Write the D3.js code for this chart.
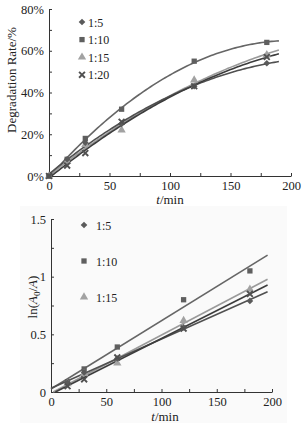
<!DOCTYPE html>
<html><head><meta charset="utf-8">
<script src="https://cdn.jsdelivr.net/npm/d3@7"></script>
<style>body{margin:0;background:#fff}svg{display:block}text{font-family:"Liberation Serif",serif;fill:#222}</style>
</head><body><svg id="c" width="304" height="426" font-family="Liberation Serif"></svg>
<script>
const seriesNames = ["1:5","1:10","1:15","1:20"];
const times = [0,15,30,60,120,180];
const rate_1_5  = [0,0.08,0.16,0.25,0.43,0.54];
const rate_1_10 = [0,0.08,0.18,0.32,0.55,0.64];
const rate_1_15 = [0,0.07,0.15,0.22,0.46,0.58];
const rate_1_20 = [0,0.05,0.11,0.26,0.43,0.57];
const kTimes = [15,30,60,120,180];
const ln_1_5  = [0.08,0.17,0.29,0.56,0.79];
const ln_1_10 = [0.09,0.20,0.39,0.80,1.05];
const ln_1_15 = [0.07,0.16,0.25,0.62,0.89];
const ln_1_20 = [0.05,0.11,0.30,0.55,0.85];
const xTicks = [0,50,100,150,200];
const yTicksTop = [0,0.2,0.4,0.6,0.8];
const yTicksBot = [0,0.5,1,1.5];

const markerColors = ["#5a5a5a","#5f5f5f","#a2a2a2","#505050"];
const lineColors = ["#505050","#666666","#9a9a9a","#3c3c3c"];

const svg = d3.select("#c");

function solve3(A,b){
  const M=A.map((r,i)=>[...r,b[i]]);const n=3;
  for(let i=0;i<n;i++){let p=i;for(let k=i+1;k<n;k++)if(Math.abs(M[k][i])>Math.abs(M[p][i]))p=k;[M[i],M[p]]=[M[p],M[i]];
    for(let k=i+1;k<n;k++){const f=M[k][i]/M[i][i];for(let j=i;j<=n;j++)M[k][j]-=f*M[i][j];}}
  const x=new Array(n);for(let i=n-1;i>=0;i--){let s=M[i][n];for(let j=i+1;j<n;j++)s-=M[i][j]*x[j];x[i]=s/M[i][i];}return x;}
function quadFit(xs,ys){const S=k=>d3.sum(xs,x=>Math.pow(x,k));const T=k=>d3.sum(xs,(x,i)=>Math.pow(x,k)*ys[i]);
  return solve3([[S(0),S(1),S(2)],[S(1),S(2),S(3)],[S(2),S(3),S(4)]],[T(0),T(1),T(2)]);}
function linFit(xs,ys){const mx=d3.mean(xs),my=d3.mean(ys);let sxy=0,sxx=0;xs.forEach((x,i)=>{sxy+=(x-mx)*(ys[i]-my);sxx+=(x-mx)*(x-mx);});const m=sxy/sxx;return [my-m*mx,m];}

function drawSym(g,i,x,y){
  let p;
  if(i===0) p=g.append("path").attr("d",d3.symbol().type(d3.symbolSquare).size(22)()).attr("transform",`translate(${x},${y}) rotate(45)`).attr("fill",markerColors[i]);
  else if(i===1) p=g.append("path").attr("d",d3.symbol().type(d3.symbolSquare).size(28)()).attr("transform",`translate(${x},${y})`).attr("fill",markerColors[i]);
  else if(i===2) p=g.append("path").attr("d",d3.symbol().type(d3.symbolTriangle).size(30)()).attr("transform",`translate(${x},${y})`).attr("fill",markerColors[i]);
  else p=g.append("path").attr("d",d3.symbol().type(d3.symbolX).size(24)()).attr("transform",`translate(${x},${y})`).attr("fill","none").attr("stroke",markerColors[i]).attr("stroke-width",1.9);
}

function axes(g,x,y,yTicks,yFmt,yMinor){
  const ax = d3.axisBottom(x).tickValues(d3.range(0,201,25)).tickSize(-3).tickSizeOuter(0).tickFormat(d=>xTicks.includes(d)?d:"");
  const ga = g.append("g").attr("transform",`translate(0,${y(0)})`).call(ax);
  const ay = d3.axisLeft(y).tickValues(yMinor).tickSize(-3).tickSizeOuter(0).tickFormat(d=>yTicks.some(t=>Math.abs(t-d)<1e-9)?yFmt(d):"");
  const gy = g.append("g").attr("transform",`translate(${x(0)},0)`).call(ay);
  [ga,gy].forEach(a=>{a.attr("font-family","Liberation Serif").attr("font-size",12.5);
    a.selectAll("path,line").attr("stroke","#333").attr("stroke-width",1);
    a.selectAll("text").attr("fill","#222");});
  ga.selectAll("text").attr("dy","0.85em").attr("y",3);
  gy.selectAll("text").attr("x",-5);
}

// ---------- top chart ----------
const xT = d3.scaleLinear().domain([0,200]).range([49,291]);
const yT = d3.scaleLinear().domain([0,0.8]).range([176,9]);
const gT = svg.append("g");
axes(gT,xT,yT,yTicksTop,d=>Math.round(d*100)+"%",d3.range(0,0.801,0.1));
const rates=[rate_1_5,rate_1_10,rate_1_15,rate_1_20];
const drawOrder=[1,2,0,3];
drawOrder.forEach(i=>{
  const c=quadFit(times,rates[i]);
  const pts=d3.range(0,190.01,2).map(t=>[t,c[0]+c[1]*t+c[2]*t*t]);
  gT.append("path").attr("d",d3.line().x(d=>xT(d[0])).y(d=>yT(Math.max(0,d[1])))(pts))
    .attr("fill","none").attr("stroke",lineColors[i]).attr("stroke-width",1.6);
});
drawOrder.forEach(i=>{times.forEach((t,j)=>drawSym(gT,i,xT(t),yT(rates[i][j])));});
seriesNames.forEach((n,i)=>{
  const ly=22+i*17.6;
  drawSym(gT,i,82,ly);
  gT.append("text").attr("x",88).attr("y",ly+4.5).style("font-size","12px").text(n);
});
gT.append("text").attr("transform","translate(16,80) rotate(-90)").attr("text-anchor","middle").style("font-size","13px").text("Degradation Rate/%");
gT.append("text").attr("x",170).attr("y",204).attr("text-anchor","middle").style("font-size","13px")
  .html('<tspan font-style="italic">t</tspan>/min');

// ---------- bottom chart ----------
svg.insert("rect",":first-child").attr("x",20).attr("y",206).attr("width",267).attr("height",217).attr("fill","#fafafa");
const xB = d3.scaleLinear().domain([0,200]).range([51,272]);
const yB = d3.scaleLinear().domain([0,1.5]).range([392,219]);
const gB = svg.append("g");
axes(gB,xB,yB,yTicksBot,d=>d===0?"0":String(d),d3.range(0,1.501,0.25));
const lns=[ln_1_5,ln_1_10,ln_1_15,ln_1_20];
drawOrder.forEach(i=>{
  const [b,m]=linFit(kTimes,lns[i]);
  const t0=Math.max(0,-b/m), t1=196;
  gB.append("line").attr("x1",xB(t0)).attr("y1",yB(b+m*t0)).attr("x2",xB(t1)).attr("y2",yB(b+m*t1))
    .attr("stroke",lineColors[i]).attr("stroke-width",1.6);
});
drawOrder.forEach(i=>{kTimes.forEach((t,j)=>drawSym(gB,i,xB(t),yB(lns[i][j])));});
seriesNames.slice(0,3).forEach((n,i)=>{
  const ly=225+i*36;
  drawSym(gB,i,84,ly);
  gB.append("text").attr("x",96).attr("y",ly+4.5).style("font-size","12px").text(n);
});
gB.append("text").attr("transform","translate(37,297) rotate(-90)").attr("text-anchor","middle").style("font-size","13px")
  .html('ln(<tspan font-style="italic">A</tspan><tspan font-size="9px" dy="3">0</tspan><tspan dy="-3">/</tspan><tspan font-style="italic">A</tspan>)');
gB.append("text").attr("x",165).attr("y",421).attr("text-anchor","middle").style("font-size","13px")
  .html('<tspan font-style="italic">t</tspan>/min');
</script></body></html>
